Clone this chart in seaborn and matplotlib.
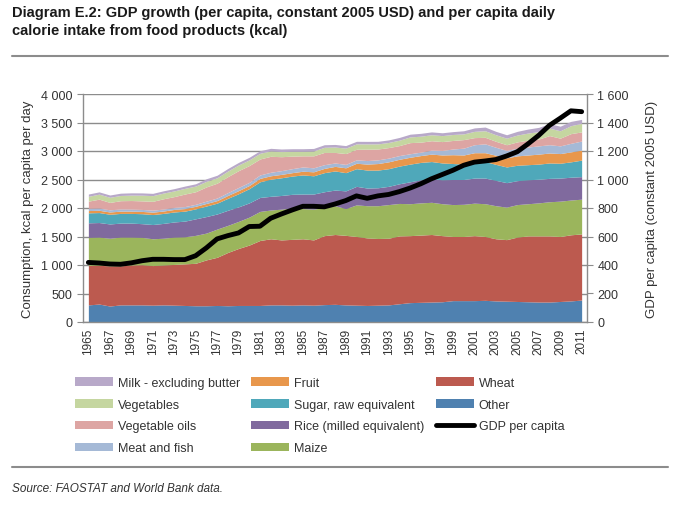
import numpy as np
import matplotlib
matplotlib.use("Agg")
import matplotlib.pyplot as plt
import seaborn as sns
from matplotlib.patches import Patch
from matplotlib.lines import Line2D
from matplotlib.ticker import FuncFormatter, MultipleLocator

# data (kcal per capita per day, stacked from the bottom)
years = list(range(1965, 2012))

other = [300, 315, 280, 300, 300, 300, 295, 300, 295, 290, 285, 285, 290, 285, 290, 290,
         290, 300, 300, 295, 300, 295, 305, 310, 300, 295, 290, 295, 300, 320, 340, 345,
         350, 355, 375, 375, 375, 380, 370, 365, 360, 355, 350, 350, 360, 370, 385]
wheat = [695, 680, 705, 685, 700, 705, 695, 700, 715, 730, 745, 805, 845, 935, 1000, 1060,
         1140, 1160, 1140, 1155, 1160, 1145, 1210, 1225, 1220, 1205, 1185, 1170, 1170, 1190,
         1175, 1180, 1185, 1160, 1125, 1125, 1140, 1120, 1090, 1080, 1130, 1155, 1160, 1160,
         1140, 1160, 1160]
maize = [490, 495, 485, 505, 490, 480, 470, 470, 480, 475, 490, 470, 495, 475, 475, 490,
         510, 505, 540, 550, 530, 540, 495, 505, 470, 555, 565, 575, 590, 570, 560, 565,
         565, 560, 560, 565, 570, 575, 580, 570, 570, 565, 580, 600, 620, 610, 610]
rice = [255, 255, 250, 245, 245, 240, 250, 260, 265, 275, 290, 290, 265, 265, 255, 250,
        245, 240, 240, 240, 255, 265, 275, 275, 310, 325, 310, 315, 320, 345, 385, 405,
        410, 420, 440, 435, 440, 450, 445, 430, 420, 420, 415, 410, 405, 400, 395]
sugar = [175, 175, 170, 170, 170, 175, 175, 175, 175, 175, 175, 185, 190, 210, 230, 250,
         275, 300, 310, 320, 335, 320, 335, 335, 320, 310, 315, 310, 310, 310, 310, 305,
         305, 295, 280, 270, 285, 290, 280, 275, 270, 265, 265, 270, 260, 270, 290]
fruit = [40, 40, 40, 40, 40, 40, 42, 42, 45, 45, 45, 45, 45, 50, 55, 55,
         60, 60, 60, 60, 65, 70, 75, 80, 85, 95, 105, 115, 120, 120, 120, 120,
         130, 140, 155, 160, 160, 155, 160, 160, 165, 170, 175, 175, 170, 175, 175]
meat_fish = [40, 40, 38, 38, 36, 35, 35, 35, 35, 35, 35, 40, 45, 50, 55, 55,
             60, 62, 65, 70, 75, 70, 65, 60, 60, 60, 62, 65, 65, 65, 62, 60,
             70, 80, 100, 120, 140, 155, 140, 130, 135, 140, 145, 145, 135, 150, 160]
veg_oils = [125, 155, 130, 145, 150, 150, 155, 180, 190, 220, 220, 250, 260, 280, 295, 295,
            280, 280, 245, 220, 195, 210, 215, 185, 190, 185, 200, 190, 185, 175, 195, 175,
            165, 155, 150, 150, 125, 115, 105, 100, 110, 120, 120, 160, 135, 170, 160]
vegetables = [85, 88, 90, 92, 95, 100, 100, 100, 100, 100, 100, 98, 95, 98, 100, 100,
              100, 95, 90, 85, 80, 85, 90, 95, 95, 95, 92, 90, 90, 95, 100, 105,
              105, 105, 105, 100, 110, 115, 115, 115, 120, 125, 130, 130, 130, 140, 150]
milk = [40, 40, 40, 40, 40, 40, 40, 40, 40, 40, 40, 45, 45, 45, 45, 45,
        45, 45, 45, 45, 45, 45, 45, 45, 45, 45, 45, 45, 45, 48, 48, 50,
        50, 50, 50, 55, 60, 65, 60, 60, 65, 70, 75, 80, 80, 75, 70]

# GDP per capita, constant 2005 USD (right axis)
gdp = [418, 414, 407, 405, 415, 430, 440, 440, 438, 438, 465, 520, 583, 606, 625, 670,
       672, 728, 758, 786, 812, 812, 808, 828, 852, 885, 868, 885, 895, 915, 940, 970,
       1005, 1035, 1065, 1100, 1122, 1130, 1140, 1165, 1195, 1250, 1310, 1380, 1430, 1482, 1476]

labels = ["Other", "Wheat", "Maize", "Rice (milled equivalent)", "Sugar, raw equivalent",
          "Fruit", "Meat and fish", "Vegetable oils", "Vegetables", "Milk - excluding butter"]
colors = ["#4F81B0", "#BC5A4F", "#9BB55C", "#806A9E", "#4FA8BA",
          "#E8974C", "#A5B9D6", "#DDA5A3", "#C5D6A0", "#B8A9C9"]

sns.set_theme(style="white")
plt.rcParams['font.family'] = ['Liberation Sans', 'DejaVu Sans']
text_col = "#333333"
grid_col = "#8C8C8C"

fig = plt.figure(figsize=(6.78, 5.06), dpi=100)
ax = fig.add_axes([83 / 678, 1 - 323 / 506, 504 / 678, 228 / 506])

ax.stackplot(years, other, wheat, maize, rice, sugar, fruit, meat_fish, veg_oils,
             vegetables, milk, colors=colors, labels=labels, linewidth=0, zorder=2)
ax.set_xlim(1964.5, 2011.5)
ax.set_ylim(0, 4000)
ax.yaxis.set_major_locator(MultipleLocator(500))
ax.yaxis.set_major_formatter(FuncFormatter(lambda v, p: f"{int(v):,}".replace(",", " ")))
ax.grid(axis="y", color=grid_col, linewidth=1.0, zorder=0)
ax.set_axisbelow(True)

ax.set_xticks(years[::2])
ax.set_xticklabels([str(y) for y in years[::2]], rotation=90, fontsize=8.5, color=text_col)
ax.set_xticks([y - 0.5 for y in years] + [2011.5], minor=True)
ax.tick_params(axis="x", which="major", length=0, pad=4)
ax.tick_params(axis="x", which="minor", length=4, color=grid_col, width=0.8, direction="out")
ax.tick_params(axis="y", length=4, color=grid_col, width=0.8, direction="out",
               labelsize=9, labelcolor=text_col, left=True)
ax.set_ylabel("Consumption, kcal per capita per day", fontsize=9.5, color=text_col, labelpad=5)

for side in ["top", "right"]:
    ax.spines[side].set_visible(False)
for side in ["left", "bottom"]:
    ax.spines[side].set_color(grid_col)
    ax.spines[side].set_linewidth(1.0)

ax2 = ax.twinx()
sns.lineplot(x=years, y=gdp, ax=ax2, color="black", linewidth=3.5, zorder=5)
ax2.set_ylim(0, 1600)
ax2.set_xlim(1964.5, 2011.5)
ax2.yaxis.set_major_locator(MultipleLocator(200))
ax2.yaxis.set_major_formatter(FuncFormatter(lambda v, p: f"{int(v):,}".replace(",", " ")))
ax2.tick_params(axis="y", length=4, color=grid_col, width=0.8, direction="out",
                labelsize=9, labelcolor=text_col, right=True)
ax2.set_ylabel("GDP per capita (constant 2005 USD)", fontsize=9.5, color=text_col,
               rotation=90, labelpad=12)
for side in ["top", "left", "bottom"]:
    ax2.spines[side].set_visible(False)
ax2.spines["right"].set_color(grid_col)
ax2.spines["right"].set_linewidth(1.0)

# legend in three columns
col_map = dict(zip(labels, colors))
cols = [["Milk - excluding butter", "Vegetables", "Vegetable oils", "Meat and fish"],
        ["Fruit", "Sugar, raw equivalent", "Rice (milled equivalent)", "Maize"],
        ["Wheat", "Other"]]
xpos = [77 / 678, 253 / 678, 438 / 678]
for i, names in enumerate(cols):
    handles = [Patch(facecolor=col_map[n], edgecolor="none") for n in names]
    if i == 2:
        handles.append(Line2D([0], [0], color="black", linewidth=3.5))
        names = names + ["GDP per capita"]
    fig.legend(handles, names, loc="upper left", bbox_to_anchor=(xpos[i] - 0.01, 1 - 373 / 506),
               frameon=False, fontsize=9, handlelength=3.0, handleheight=0.65,
               handletextpad=0.4, labelspacing=0.78, borderaxespad=0, labelcolor=text_col)

# title, rules and source
fig.text(12 / 678, 1 - 6 / 506, "Diagram E.2: GDP growth (per capita, constant 2005 USD) and per capita daily\n"
         "calorie intake from food products (kcal)", ha="left", va="top", fontsize=10.5,
         fontweight="bold", color="#1a1a1a", linespacing=1.35)
fig.add_artist(Line2D([12 / 678, 668 / 678], [1 - 57 / 506, 1 - 57 / 506], color=grid_col, linewidth=1.5))
fig.add_artist(Line2D([12 / 678, 668 / 678], [1 - 468 / 506, 1 - 468 / 506], color=grid_col, linewidth=1.5))
fig.text(12 / 678, 1 - 489 / 506, "Source: FAOSTAT and World Bank data.", ha="left", va="center",
         fontsize=8.5, style="italic", color=text_col)

fig.savefig("out.png", dpi=100, facecolor="white")
